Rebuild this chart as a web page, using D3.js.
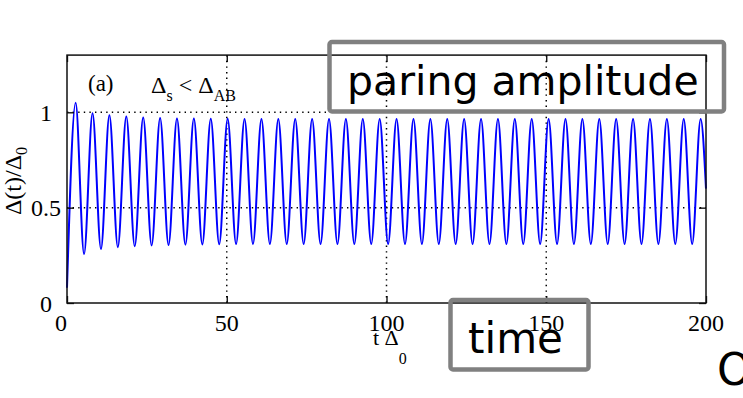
<!DOCTYPE html>
<html>
<head>
<meta charset="utf-8">
<script src="https://cdn.jsdelivr.net/npm/d3@7"></script>
<style>
  html, body { margin: 0; padding: 0; background: #fff; }
  svg { display: block; }
</style>
</head>
<body>
<svg id="chart" width="743" height="398"></svg>
<script>
// ---------------- data ----------------
const xTicks = [0, 50, 100, 150, 200];
const yTicks = [0, 0.5, 1];
const yTickLabels = ["0", "0.5", "1"];
const xGrid = [50, 100, 150];
const yGrid = [0.5, 1];

const startPoint = [0, 0.08];
const endPoint = [200, 0.60];

const peakTimes = [2.70, 7.99, 13.27, 18.56, 23.85, 29.14, 34.42, 39.71, 45.00, 50.28,
  55.57, 60.86, 66.14, 71.43, 76.72, 82.01, 87.29, 92.58, 97.87, 103.15,
  108.44, 113.73, 119.01, 124.30, 129.59, 134.88, 140.16, 145.45, 150.74, 156.02,
  161.31, 166.60, 171.88, 177.17, 182.46, 187.75, 193.03, 198.32];
const peakValues = [1.05, 0.995, 0.985, 0.978, 0.973, 0.970, 0.968, 0.967, 0.966, 0.966,
  0.965, 0.965, 0.965, 0.965, 0.965, 0.965, 0.965, 0.965, 0.965, 0.965,
  0.965, 0.965, 0.965, 0.965, 0.965, 0.965, 0.965, 0.965, 0.965, 0.965,
  0.965, 0.965, 0.965, 0.965, 0.965, 0.965, 0.965, 0.965];
const troughTimes = [5.34, 10.63, 15.91, 21.20, 26.49, 31.78, 37.06, 42.35, 47.64, 52.92,
  58.21, 63.50, 68.78, 74.07, 79.36, 84.65, 89.93, 95.22, 100.51, 105.79,
  111.08, 116.37, 121.65, 126.94, 132.23, 137.52, 142.80, 148.09, 153.38, 158.66,
  163.95, 169.24, 174.52, 179.81, 185.10, 190.39, 195.67];
const troughValues = [0.257, 0.283, 0.293, 0.298, 0.302, 0.304, 0.306, 0.307, 0.308, 0.309,
  0.310, 0.310, 0.310, 0.310, 0.310, 0.310, 0.310, 0.310, 0.310, 0.310,
  0.310, 0.310, 0.310, 0.310, 0.310, 0.310, 0.310, 0.310, 0.310, 0.310,
  0.310, 0.310, 0.310, 0.310, 0.310, 0.310, 0.310];

// build the series table
const series = [startPoint];
peakTimes.forEach((t, i) => {
  series.push([t, peakValues[i]]);
  if (i < troughTimes.length) series.push([troughTimes[i], troughValues[i]]);
});
series.push(endPoint);

// ---------------- layout ----------------
const svg = d3.select("#chart");
const serif = "'Liberation Serif', 'Times New Roman', serif";
const sans = "'DejaVu Sans', Verdana, sans-serif";

const x = d3.scaleLinear().domain([0, 200]).range([67, 706]);
const y = d3.scaleLinear().domain([0, 1.3]).range([303, 55.1]);

const [x0, x1] = x.range();
const [y0, y1] = y.range();

// dotted grid
const g = svg.append("g").attr("stroke", "#000").attr("stroke-width", 1.5)
  .attr("stroke-dasharray", "1.4,4.2");
g.selectAll("line.vx").data(xGrid).join("line")
  .attr("x1", d => x(d)).attr("x2", d => x(d))
  .attr("y1", y0).attr("y2", y1);
g.selectAll("line.hy").data(yGrid).join("line")
  .attr("x1", x0).attr("x2", x1)
  .attr("y1", d => y(d)).attr("y2", d => y(d));

// data line
const line = d3.line().x(d => x(d[0])).y(d => y(d[1])).curve(d3.curveMonotoneX);
svg.append("path").datum(series)
  .attr("d", line)
  .attr("fill", "none")
  .attr("stroke", "#0000ff")
  .attr("stroke-width", 2);

// axes (ticks inward, MATLAB-style box)
const tl = 7;
const axBottom = d3.axisBottom(x).tickValues(xTicks).tickSize(-tl).tickFormat("");
const axTop = d3.axisTop(x).tickValues(xTicks).tickSize(-tl).tickFormat("");
const axLeft = d3.axisLeft(y).tickValues(yTicks).tickSize(-tl).tickFormat("");
const axRight = d3.axisRight(y).tickValues(yTicks).tickSize(-tl).tickFormat("");
function styleAxis(sel) {
  sel.select(".domain").remove();
  sel.selectAll("line").attr("stroke", "#000").attr("stroke-width", 1.3);
}
svg.append("g").attr("transform", `translate(0,${y0})`).call(axBottom).call(styleAxis);
svg.append("g").attr("transform", `translate(0,${y1})`).call(axTop).call(styleAxis);
svg.append("g").attr("transform", `translate(${x0},0)`).call(axLeft).call(styleAxis);
svg.append("g").attr("transform", `translate(${x1},0)`).call(axRight).call(styleAxis);

// frame
svg.append("rect")
  .attr("x", x0).attr("y", y1).attr("width", x1 - x0).attr("height", y0 - y1)
  .attr("fill", "none").attr("stroke", "#111").attr("stroke-width", 1.5);

// tick labels
svg.append("g").selectAll("text").data(xTicks).join("text")
  .attr("x", d => x(d)).attr("dx", (d, i) => i === 0 ? -6 : 0).attr("y", y0 + 28)
  .attr("text-anchor", "middle")
  .attr("font-family", serif).attr("font-size", 24)
  .text(d => d);
svg.append("g").selectAll("text").data(yTicks).join("text")
  .attr("x", 46).attr("y", d => y(d) + 8.5)
  .attr("text-anchor", "middle")
  .attr("font-family", serif).attr("font-size", 24)
  .text((d, i) => yTickLabels[i]);

// x axis title: t Δ0
const xt = svg.append("text")
  .attr("x", 373).attr("y", 345)
  .attr("font-family", serif).attr("font-size", 22);
xt.append("tspan").text("t \u0394");
xt.append("tspan").attr("font-size", 16).attr("dy", 19).text("0");

// y axis title: Δ(t)/Δ0
const yt = svg.append("text")
  .attr("transform", "translate(21,181) rotate(-90)")
  .attr("text-anchor", "middle")
  .attr("font-family", serif).attr("font-size", 24);
yt.append("tspan").text("\u0394(t)/\u0394");
yt.append("tspan").attr("font-size", 16).attr("dy", 6).text("0");

// panel label
svg.append("text")
  .attr("x", 88).attr("y", 91)
  .attr("font-family", serif).attr("font-size", 23)
  .text("(a)");
const pl = svg.append("text")
  .attr("x", 151).attr("y", 93)
  .attr("font-family", serif).attr("font-size", 24);
pl.append("tspan").text("\u0394");
pl.append("tspan").attr("font-size", 16).attr("dy", 8).text("s");
pl.append("tspan").attr("dy", -8).text(" < \u0394");
pl.append("tspan").attr("font-size", 16).attr("dy", 8).text("AB");

// annotation boxes
svg.append("rect")
  .attr("x", 329.5).attr("y", 42).attr("width", 394.5).attr("height", 69.5)
  .attr("rx", 2.5)
  .attr("fill", "none").attr("stroke", "#808080").attr("stroke-width", 4.5);
svg.append("text")
  .attr("x", 347).attr("y", 95)
  .attr("font-family", sans).attr("font-size", 41).attr("fill", "#000")
  .text("paring amplitude");

svg.append("rect")
  .attr("x", 450.5).attr("y", 300).attr("width", 138).attr("height", 69.5)
  .attr("rx", 2.5)
  .attr("fill", "none").attr("stroke", "#808080").attr("stroke-width", 4.5);
svg.append("text")
  .attr("x", 468).attr("y", 353)
  .attr("font-family", sans).attr("font-size", 42).attr("fill", "#000")
  .text("time");

svg.append("text")
  .attr("x", 717).attr("y", 385)
  .attr("font-family", sans).attr("font-size", 44).attr("fill", "#000")
  .text("O");
</script>
</body>
</html>
